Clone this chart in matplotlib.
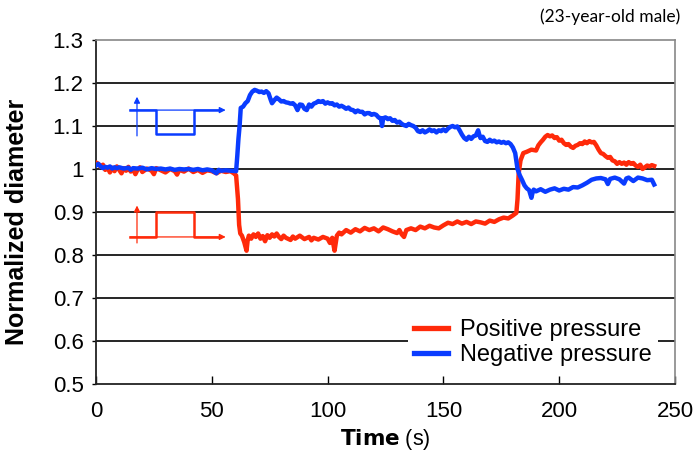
import matplotlib
matplotlib.use("Agg")
import matplotlib.pyplot as plt
import numpy as np

# ---- data ----
pos_t = [0, 1, 2, 3, 4, 5, 6, 7, 8, 9, 10, 11, 12, 13, 14, 15, 16, 17, 18, 19, 20, 22, 24, 25, 26, 28, 30, 32, 34, 35, 36, 38, 40, 42, 44, 46, 48, 50, 52, 54, 56, 58, 59.5, 60.5,
         61.3, 61.8, 62.3, 63, 64, 65, 65.5, 66, 67, 68, 69, 70, 71, 72, 73, 74, 75, 76, 77, 78, 79, 80, 81, 82, 84, 85, 86, 88, 90, 92, 93, 94, 96, 98, 100, 101, 102, 103,
         104, 105, 106, 108, 110, 112, 114, 116, 118, 120, 122, 124, 126, 128, 130, 131, 132, 133, 134, 136, 138, 140, 142, 144, 146, 148, 150, 152, 154, 156, 158, 160,
         162, 164, 166, 168, 170, 172, 174, 176, 178, 180, 181.5, 182, 182.5, 183.3, 184.5, 186, 188, 190, 191, 192, 193, 194, 195, 196, 197, 198, 199, 200, 201, 202,
         203, 204, 205, 206, 207, 208, 209, 210, 211, 212, 213, 214, 215, 216, 217, 218, 219, 220, 221, 222, 223, 224, 225, 226, 227, 228, 229, 230, 231, 232, 233,
         234, 235, 236, 237, 238, 239, 240, 241]
pos_v = [1.015, 1.012, 1.005, 1.010, 0.998, 1.004, 0.992, 1.003, 0.995, 1.006, 0.998, 0.990, 1.002, 0.996, 1.005, 0.994, 1.000, 0.988, 0.999, 1.004, 0.993, 1.001,
         0.996, 0.988, 1.002, 0.997, 0.992, 1.000, 0.995, 0.987, 0.998, 0.994, 1.001, 0.993, 0.998, 0.991, 0.997, 0.995, 0.990, 0.996, 0.993, 0.995, 0.990, 0.985,
         0.93, 0.87, 0.85, 0.845, 0.83, 0.81, 0.835, 0.845, 0.838, 0.848, 0.842, 0.85, 0.838, 0.844, 0.832, 0.846, 0.84, 0.848, 0.843, 0.85, 0.842, 0.837, 0.845,
         0.84, 0.835, 0.843, 0.838, 0.845, 0.837, 0.842, 0.834, 0.84, 0.836, 0.842, 0.838, 0.828, 0.84, 0.81, 0.845, 0.852, 0.848, 0.858, 0.852, 0.86, 0.855,
         0.863, 0.858, 0.862, 0.855, 0.864, 0.86, 0.855, 0.851, 0.858, 0.848, 0.842, 0.858, 0.862, 0.858, 0.866, 0.862, 0.868, 0.864, 0.862, 0.869, 0.875,
         0.872, 0.878, 0.873, 0.877, 0.872, 0.878, 0.876, 0.873, 0.88, 0.877, 0.883, 0.887, 0.885, 0.892, 0.898, 0.93, 0.99, 1.02, 1.037, 1.04, 1.045, 1.043,
         1.055, 1.062, 1.068, 1.075, 1.079, 1.076, 1.078, 1.072, 1.074, 1.066, 1.068, 1.06, 1.056, 1.058, 1.052, 1.049, 1.054, 1.056, 1.06, 1.058, 1.064, 1.06,
         1.065, 1.062, 1.063, 1.055, 1.045, 1.037, 1.035, 1.03, 1.026, 1.028, 1.02, 1.018, 1.012, 1.016, 1.012, 1.015, 1.01, 1.016, 1.012, 1.014, 1.008, 1.005,
         1.01, 1.0, 1.004, 1.008, 1.006, 1.009, 1.007]

neg_t = [0, 1, 2, 3, 4, 5, 6, 7, 8, 9, 10, 12, 14, 15, 16, 18, 20, 22, 24, 26, 28, 30, 32, 34, 36, 38, 40, 42, 44, 46, 48, 50, 52, 53, 54, 56, 58, 59.5, 60.5,
         61, 61.5, 62, 62.5, 63.5, 64.5, 65.5, 66.5, 67.5, 68.5, 69.5, 70.5, 71.5, 72.5, 73.5, 74.5, 75.5, 76, 77, 78, 79, 80, 81, 82, 83, 84, 85, 86, 87, 88,
         89, 90, 91, 92, 93, 94, 95, 96, 97, 98, 99, 100, 101, 102, 103, 104, 105, 106, 107, 108, 109, 110, 111, 112, 113, 114, 115, 116, 117, 118, 119, 120,
         121, 122, 123, 123.5, 124, 125, 126, 127, 128, 129, 130, 131, 132, 133, 134, 135, 136, 137, 138, 139, 140, 141, 142, 143, 144, 145, 146, 147, 148,
         149, 150, 151, 152, 153, 154, 155, 156, 157, 158, 159, 160, 161, 162, 163, 164, 165, 165.5, 166, 167, 168, 169, 170, 171, 172, 173, 174, 175, 176,
         177, 178, 179, 180, 181, 182, 183, 184, 185, 186, 187, 188, 188.5, 189, 190, 192, 194, 196, 198, 200, 202, 204, 206, 208, 210, 212, 214, 216, 218,
         220, 221, 222, 224, 226, 228, 229, 230, 232, 234, 236, 238, 240, 241]
neg_v = [1.008, 1.012, 1.006, 1.002, 1.005, 1.003, 1.006, 1.001, 1.004, 1.002, 1.004, 1.001, 1.003, 0.998, 1.002, 1.001, 1.003, 0.999, 1.002, 1.0, 1.001,
         0.999, 1.001, 0.998, 1.0, 0.999, 1.0, 0.998, 1.0, 0.997, 0.999, 0.997, 0.99, 0.998, 0.996, 0.997, 0.996, 0.995, 0.995,
         1.03, 1.07, 1.1, 1.142, 1.145, 1.153, 1.158, 1.172, 1.18, 1.184, 1.182, 1.179, 1.18, 1.177, 1.181, 1.176, 1.16, 1.153, 1.16, 1.166, 1.162, 1.157,
         1.158, 1.155, 1.154, 1.152, 1.153, 1.148, 1.137, 1.15, 1.149, 1.14, 1.137, 1.15, 1.145, 1.152, 1.154, 1.158, 1.156, 1.158, 1.152, 1.155, 1.152,
         1.153, 1.148, 1.15, 1.145, 1.147, 1.144, 1.14, 1.143, 1.138, 1.137, 1.132, 1.136, 1.133, 1.133, 1.127, 1.13, 1.13, 1.126, 1.128, 1.126, 1.12, 1.118,
         1.10, 1.118, 1.12, 1.116, 1.118, 1.112, 1.114, 1.108, 1.11, 1.105, 1.102, 1.1, 1.105, 1.102, 1.1, 1.096, 1.088, 1.086, 1.09, 1.085, 1.088, 1.092,
         1.088, 1.09, 1.085, 1.09, 1.088, 1.092, 1.088, 1.094, 1.098, 1.1, 1.097, 1.099, 1.09, 1.08, 1.072, 1.068, 1.075, 1.07, 1.076, 1.078, 1.09, 1.08,
         1.072, 1.075, 1.065, 1.063, 1.068, 1.064, 1.066, 1.062, 1.064, 1.061, 1.063, 1.06, 1.062, 1.058, 1.05, 1.037, 1.0, 0.985, 0.974, 0.962, 0.955,
         0.951, 0.933, 0.945, 0.952, 0.948, 0.953, 0.947, 0.952, 0.955, 0.95, 0.954, 0.952, 0.958, 0.957, 0.962, 0.968, 0.975, 0.978, 0.979, 0.976, 0.965,
         0.977, 0.98, 0.976, 0.966, 0.978, 0.98, 0.972, 0.98, 0.978, 0.974, 0.975, 0.964]

x_ticks = [0, 50, 100, 150, 200, 250]
y_ticks = [0.5, 0.6, 0.7, 0.8, 0.9, 1.0, 1.1, 1.2, 1.3]
y_tick_labels = ["0.5", "0.6", "0.7", "0.8", "0.9", "1", "1.1", "1.2", "1.3"]
series_names = ["Positive pressure", "Negative pressure"]

RED = "#ff2a0a"
BLUE = "#0a3cff"

plt.rcParams["font.family"] = ["Liberation Sans", "DejaVu Sans"]

fig = plt.figure(figsize=(6.97, 4.55), dpi=100)
ax = fig.add_axes([96 / 697, 1 - 384 / 455, (675 - 96) / 697, (384 - 40) / 455])

ax.set_xlim(0, 250)
ax.set_ylim(0.5, 1.3)

# horizontal grid lines
for yv in y_ticks[1:-1]:
    ax.axhline(yv, color="black", lw=1.2, zorder=1)

lr, = ax.plot(pos_t, pos_v, color=RED, lw=3.2, zorder=3, solid_joinstyle="round")
lb, = ax.plot(neg_t, neg_v, color=BLUE, lw=3.2, zorder=4, solid_joinstyle="round")

# schematic insets (pressure waveforms)
def schematic(color, base, step, x_axis, y_bot, y_top):
    ax.plot([14.7, 25.9, 25.9, 42.3, 42.3, 53.0], [base, base, step, step, base, base],
            color=color, lw=1.8, zorder=5)
    ax.annotate("", xy=(56.0, base), xytext=(14.7, base),
                arrowprops=dict(arrowstyle="-|>", color=color, lw=0.9,
                                mutation_scale=9, shrinkA=0, shrinkB=0), zorder=5)
    ax.annotate("", xy=(x_axis, y_top), xytext=(x_axis, y_bot),
                arrowprops=dict(arrowstyle="-|>", color=color, lw=0.9,
                                mutation_scale=9, shrinkA=0, shrinkB=0), zorder=5)

schematic(BLUE, 1.137, 1.081, 17.7, 1.077, 1.168)
schematic(RED, 0.842, 0.900, 17.7, 0.828, 0.915)

ax.set_xticks(x_ticks)
ax.set_yticks(y_ticks)
ax.set_yticklabels(y_tick_labels)
ax.tick_params(axis="x", direction="in", length=6, width=1, labelsize=16, pad=12, top=False)
ax.tick_params(axis="y", direction="out", length=3, width=1, labelsize=16, pad=6, right=False)

for s in ["left", "bottom"]:
    ax.spines[s].set_color("#222222")
    ax.spines[s].set_linewidth(1.3)
for s in ["top", "right"]:
    ax.spines[s].set_color("#888888")
    ax.spines[s].set_linewidth(1.2)

fig.text(0.5 * (96 + 675) / 697, 1 - 439 / 455, r"$\bf{Time}$ (s)", ha="center", va="center", fontsize=15.5)
fig.text(17 / 697, 1 - 222 / 455, "Normalized diameter", rotation=90, ha="center", va="center",
         fontsize=18, fontweight="bold")
fig.text(680 / 697, 1 - 17 / 455, "(23-year-old male)", ha="right", va="center",
         fontsize=12.5, family=["Lato", "DejaVu Sans"])

leg = ax.legend([lr, lb], series_names, loc="lower right", bbox_to_anchor=(0.97, 0.035),
                frameon=True, fancybox=False, fontsize=17, handlelength=1.45,
                handletextpad=0.5, labelspacing=0.12, borderpad=0.25, borderaxespad=0)
leg.get_frame().set_edgecolor("none")
leg.get_frame().set_facecolor("white")
leg.get_frame().set_alpha(1.0)
leg.set_zorder(10)
for h in leg.get_lines():
    h.set_linewidth(3.8)

fig.savefig("out.png", dpi=100)
